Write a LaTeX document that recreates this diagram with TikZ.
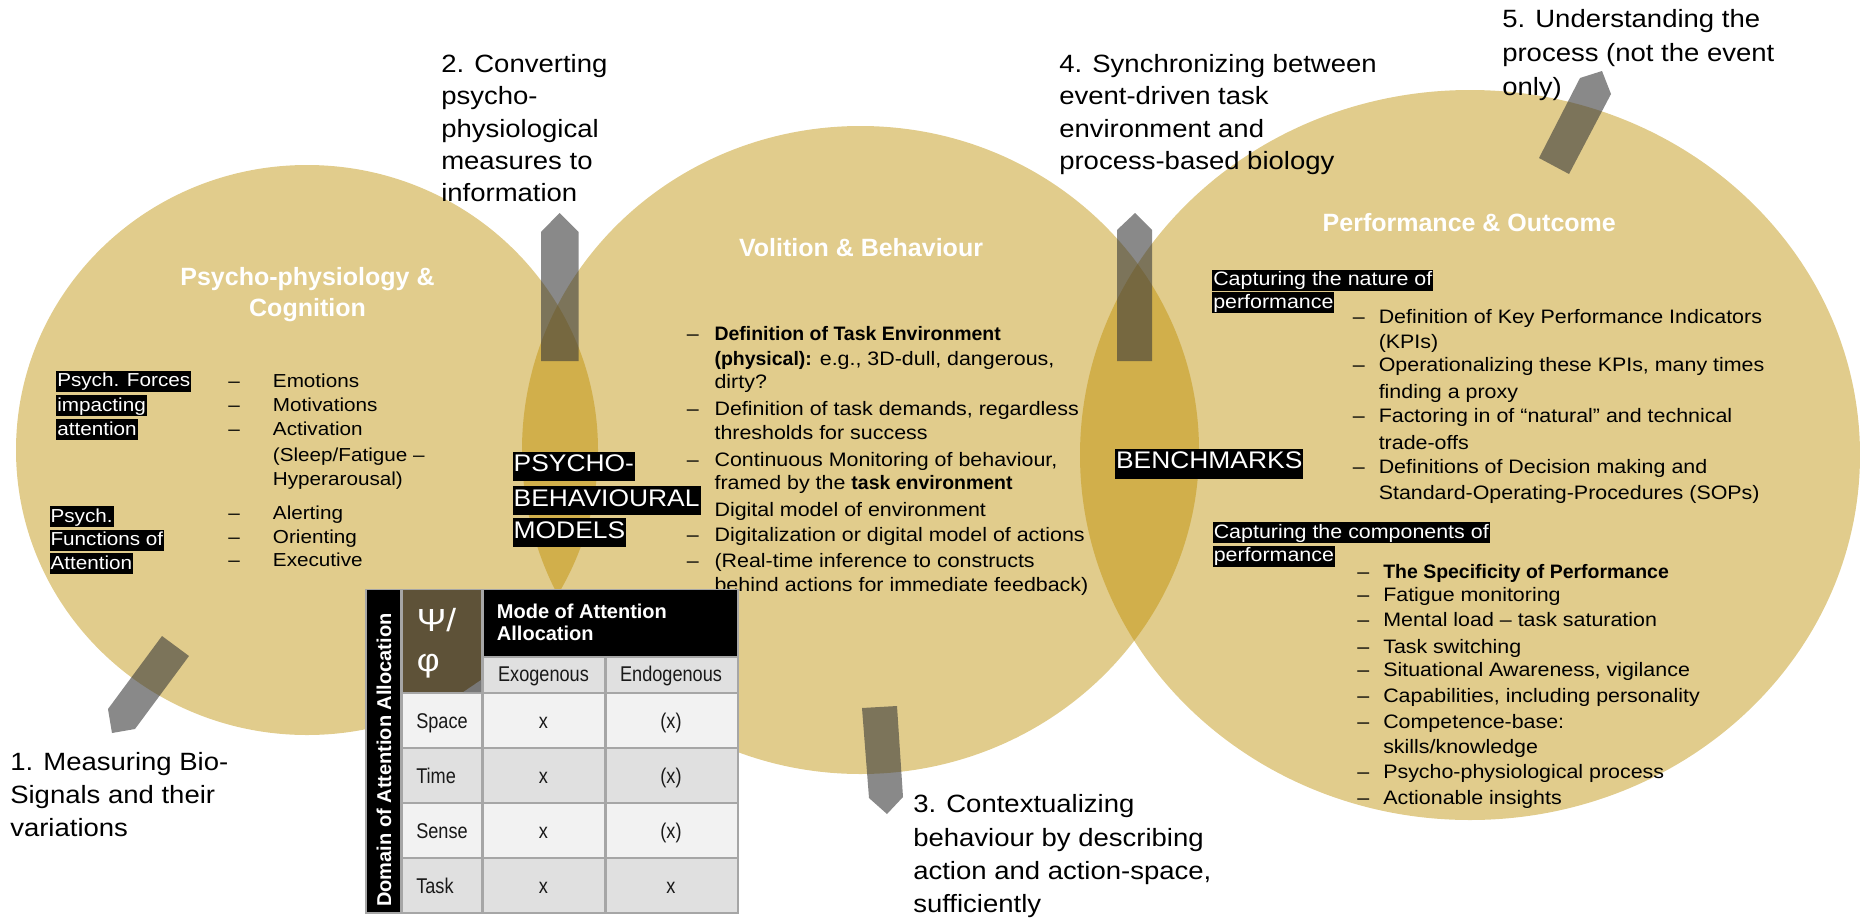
\documentclass[tikz,border=0pt]{standalone}
\usepackage{fontspec}
\setmainfont{Liberation Sans}[UprightFeatures={FakeStretch=1.1}]
\newfontfamily\tabfamily{Liberation Sans}[UprightFeatures={FakeStretch=0.85}]
\definecolor{gold}{RGB}{225,204,140}
\definecolor{lens}{RGB}{209,175,75}
\definecolor{arrowc}{RGB}{58,58,58}
\definecolor{olive}{RGB}{94,82,56}
\definecolor{cellA}{RGB}{242,242,242}
\definecolor{cellB}{RGB}{224,224,224}
\definecolor{gridc}{RGB}{166,166,166}
\definecolor{notch}{RGB}{120,120,120}
\tikzset{
  lbl/.style={anchor=base west, inner sep=0pt, font=\fontsize{18.75pt}{22pt}\selectfont},
  bd/.style={anchor=base west, inner sep=0pt, font=\fontsize{14.6pt}{17pt}\selectfont},
  ca/.style={anchor=base west, inner sep=0pt, font=\fontsize{14.1pt}{17pt}\selectfont},
  hl/.style={fill=black, text=white, inner xsep=0.75pt, inner ysep=0pt, text height=12pt, text depth=3.75pt},
  big/.style={anchor=base west, fill=black, text=white, inner xsep=0.75pt, inner ysep=0pt, text height=15pt, text depth=6.75pt, font=\fontsize{18pt}{20pt}\selectfont},
  ttl/.style={anchor=base, inner sep=0pt, text=white, font=\bfseries\fontsize{18.75pt}{22pt}\selectfont},
  arr/.style={fill=arrowc, fill opacity=0.6},
  tb/.style={anchor=base, inner sep=0pt, text=black!90, font=\tabfamily\fontsize{16pt}{18pt}\selectfont},
  tbl/.style={tb, anchor=base west},
  tbh/.style={anchor=base west, inner sep=0pt, text=white, font=\bfseries\fontsize{15pt}{17pt}\selectfont},
}
\begin{document}
\begin{tikzpicture}[x=0.75pt,y=-0.75pt]
\useasboundingbox (0,0) rectangle (1860,918);
% circles
\fill[gold] (307,450) ellipse [x radius=291, y radius=285];
\fill[gold] (860.5,450) ellipse [x radius=338.5, y radius=324];
\fill[gold] (1470,455) ellipse [x radius=390, y radius=365];
\begin{scope}
  \clip (307,450) ellipse [x radius=291, y radius=285];
  \fill[lens] (860.5,450) ellipse [x radius=338.5, y radius=324];
\end{scope}
\begin{scope}
  \clip (860.5,450) ellipse [x radius=338.5, y radius=324];
  \fill[lens] (1470,455) ellipse [x radius=390, y radius=365];
\end{scope}
% arrows
\fill[arr] (162,636) -- (189,656) -- (135,729) -- (112,733) -- (108,709) -- cycle;
\fill[arr] (541,361) -- (541,232) -- (559.5,213) -- (578.5,232) -- (578.5,361) -- cycle;
\fill[arr] (862,708) -- (897,706) -- (903,797) -- (887,814) -- (869,798) -- cycle;
\fill[arr] (1117,361) -- (1117,230) -- (1135,213) -- (1152,230) -- (1152,361) -- cycle;
\fill[arr] (1539,158) -- (1580,78) -- (1602,71) -- (1611,94) -- (1569,174) -- cycle;
% step labels
\node[lbl] (l1a) at (10,770) {1. Measuring Bio-};
\node[lbl] (l1b) at (10,803) {Signals and their};
\node[lbl] (l1c) at (10,836.5) {variations};
\node[lbl] (l2a) at (441,72) {2. Converting};
\node[lbl] (l2b) at (441,104.5) {psycho-};
\node[lbl] (l2c) at (441,137) {physiological};
\node[lbl] (l2d) at (441,169.3) {measures to};
\node[lbl] (l2e) at (441,201.7) {information};
\node[lbl] (l3a) at (913,812.7) {3. Contextualizing};
\node[lbl] (l3b) at (913,846) {behaviour by describing};
\node[lbl] (l3c) at (913,879.3) {action and action-space,};
\node[lbl] (l3d) at (913,912.6) {sufficiently};
\node[lbl] (l4a) at (1059,72) {4. Synchronizing between};
\node[lbl] (l4b) at (1059,104.5) {event-driven task};
\node[lbl] (l4c) at (1059,137) {environment and};
\node[lbl] (l4d) at (1059,169.3) {process-based biology};
\node[lbl] (l5a) at (1502,27) {5. Understanding the};
\node[lbl] (l5b) at (1502,61.5) {process (not the event};
\node[lbl] (l5c) at (1502,95) {only)};
% titles
\node[ttl] (t1a) at (307.5,285) {Psycho-physiology \&};
\node[ttl] (t1b) at (307.5,316.7) {Cognition};
\node[ttl] (t2) at (861,256.7) {Volition \& Behaviour};
\node[ttl] (t3) at (1469.3,231.7) {Performance \& Outcome};
% circle 1 content
\node[ca,hl] (pf1) at (56,386.7) {Psych. Forces};
\node[ca,hl] (pf2) at (56,411) {impacting\ };
\node[ca,hl] (pf3) at (56,435.3) {attention};
\node[ca,hl] (pa1) at (49.3,522.3) {Psych.\ };
\node[ca,hl] (pa2) at (49.3,545.5) {Functions of\ };
\node[ca,hl] (pa3) at (49.3,569) {Attention};
\node[ca] (cd1) at (228,387.7) {–};
\node[ca] (cd2) at (228,411) {–};
\node[ca] (cd3) at (228,435.7) {–};
\node[ca] (cd4) at (228,519.3) {–};
\node[ca] (cd5) at (228,543.3) {–};
\node[ca] (cd6) at (228,566.7) {–};
\node[ca] (ci1) at (272.7,387.7) {Emotions};
\node[ca] (ci2) at (272.7,411) {Motivations};
\node[ca] (ci3) at (272.7,435.7) {Activation};
\node[ca] (ci4) at (272.7,461) {(Sleep/Fatigue –};
\node[ca] (ci5) at (272.7,485) {Hyperarousal)};
\node[ca] (ci6) at (272.7,519.3) {Alerting};
\node[ca] (ci7) at (272.7,543.3) {Orienting};
\node[ca] (ci8) at (272.7,566.7) {Executive};
% volition content
\node[bd] (vd1) at (686.7,340.7) {–};
\node[bd] (vd2) at (686.7,415) {–};
\node[bd] (vd3) at (686.7,466) {–};
\node[bd] (vd4) at (686.7,541) {–};
\node[bd] (vd5) at (686.7,567.7) {–};
\node[bd] (v1) at (714.3,340.7) {\textbf{Definition of Task Environment}};
\node[bd] (v2) at (714.3,365) {\textbf{(physical):} e.g., 3D-dull, dangerous,};
\node[bd] (v3) at (714.3,388.3) {dirty?};
\node[bd] (v4) at (714.3,415) {Definition of task demands, regardless};
\node[bd] (v5) at (714.3,439.3) {thresholds for success};
\node[bd] (v6) at (714.3,466) {Continuous Monitoring of behaviour,};
\node[bd] (v7) at (714.3,489.3) {framed by the \textbf{task environment}};
\node[bd] (v8) at (714.3,516.7) {Digital model of environment};
\node[bd] (v9) at (714.3,541) {Digitalization or digital model of actions};
\node[bd] (v10) at (714.3,567.7) {(Real-time inference to constructs};
\node[bd] (v11) at (714.3,591) {behind actions for immediate feedback)};
% big labels
\node[big] (pb1) at (512.4,471.7) {PSYCHO-};
\node[big] (pb2) at (512.4,506) {BEHAVIOURAL};
\node[big] (pb3) at (512.4,538.3) {MODELS};
\node[big, text height=14.25pt, text depth=8pt] (bm) at (1114.8,468.3) {BENCHMARKS};
% performance content
\node[bd,hl] (pn1) at (1212,285.5) {Capturing the nature of\ };
\node[bd,hl] (pn2) at (1212,308.3) {performance};
\node[bd] (pd1) at (1352.6,323.3) {–};
\node[bd] (pd2) at (1352.6,371.7) {–};
\node[bd] (pd3) at (1352.6,422.7) {–};
\node[bd] (pd4) at (1352.6,473.3) {–};
\node[bd] (p1) at (1378.5,323.3) {Definition of Key Performance Indicators};
\node[bd] (p2) at (1378.5,348.3) {(KPIs)};
\node[bd] (p3) at (1378.5,371.7) {Operationalizing these KPIs, many times};
\node[bd] (p4) at (1378.5,398.3) {finding a proxy};
\node[bd] (p5) at (1378.5,422.7) {Factoring in of “natural” and technical};
\node[bd] (p6) at (1378.5,449.3) {trade-offs};
\node[bd] (p7) at (1378.5,473.3) {Definitions of Decision making and};
\node[bd] (p8) at (1378.5,499.3) {Standard-Operating-Procedures (SOPs)};
\node[bd,hl] (pc1) at (1212.5,538.3) {Capturing the components of\ };
\node[bd,hl] (pc2) at (1212.5,561.7) {performance};
\node[bd] (qd1) at (1357,578.3) {–};
\node[bd] (qd2) at (1357,601.7) {–};
\node[bd] (qd3) at (1357,626) {–};
\node[bd] (qd4) at (1357,653.3) {–};
\node[bd] (qd5) at (1357,676.7) {–};
\node[bd] (qd6) at (1357,702.7) {–};
\node[bd] (qd7) at (1357,728.3) {–};
\node[bd] (qd8) at (1357,778.3) {–};
\node[bd] (qd9) at (1357,804) {–};
\node[bd] (q1) at (1383,578.3) {\textbf{The Specificity of Performance}};
\node[bd] (q2) at (1383,601.7) {Fatigue monitoring};
\node[bd] (q3) at (1383,626) {Mental load – task saturation};
\node[bd] (q4) at (1383,653.3) {Task switching};
\node[bd] (q5) at (1383,676.7) {Situational Awareness, vigilance};
\node[bd] (q6) at (1383,702.7) {Capabilities, including personality};
\node[bd] (q7) at (1383,728.3) {Competence-base:};
\node[bd] (q8) at (1383,753.3) {skills/knowledge};
\node[bd] (q9) at (1383,778.3) {Psycho-physiological process};
\node[bd] (q10) at (1383,804) {Actionable insights};
% table
\fill[gridc] (365,588.5) rectangle (739,913.5);
\fill[black] (367,590) rectangle (400,912);
\fill[olive] (402.5,590) rectangle (481,692);
\fill[notch] (463.3,692) -- (481,692) -- (481,680) -- cycle;
\fill[black] (483.5,590) rectangle (737,655.5);
\fill[cellB] (483.5,657.5) rectangle (604,692);
\fill[cellB] (606.5,657.5) rectangle (737,692);
\foreach \ya/\yb/\c in {694/747/cellA, 749/802/cellB, 803.5/857/cellA, 859/912/cellB}{
  \fill[\c] (402.5,\ya) rectangle (481,\yb);
  \fill[\c] (483.5,\ya) rectangle (604,\yb);
  \fill[\c] (606.5,\ya) rectangle (737,\yb);
}
\node[rotate=90, inner sep=0pt, text=white, font=\bfseries\fontsize{15pt}{17pt}\selectfont] (dom) at (384,760) {Domain of Attention Allocation};
\node[anchor=base west, inner sep=0pt, text=white, font=\fontsize{24pt}{28pt}\selectfont] (psi) at (416.7,631.7) {Ψ/};
\node[anchor=base west, inner sep=0pt, text=white, font=\fontsize{24pt}{28pt}\selectfont] (phi) at (416.7,671.7) {φ};
\node[tbh] (mh1) at (496.7,618.3) {Mode of Attention};
\node[tbh] (mh2) at (496.7,640.7) {Allocation};
\node[tb] (exo) at (543.5,681.7) {Exogenous};
\node[tb] (endo) at (671,681.7) {Endogenous};
\node[tbl] (rs) at (416,728.3) {Space};
\node[tbl] (rt) at (416,783.3) {Time};
\node[tbl] (rse) at (416,838.3) {Sense};
\node[tbl] (rta) at (416,893.3) {Task};
\node[tb] (x1) at (543.5,728.3) {x};
\node[tb] (x2) at (543.5,783.3) {x};
\node[tb] (x3) at (543.5,838.3) {x};
\node[tb] (x4) at (543.5,893.3) {x};
\node[tb] (y1) at (671,728.3) {(x)};
\node[tb] (y2) at (671,783.3) {(x)};
\node[tb] (y3) at (671,838.3) {(x)};
\node[tb] (y4) at (671,893.3) {x};
\end{tikzpicture}
\end{document}
